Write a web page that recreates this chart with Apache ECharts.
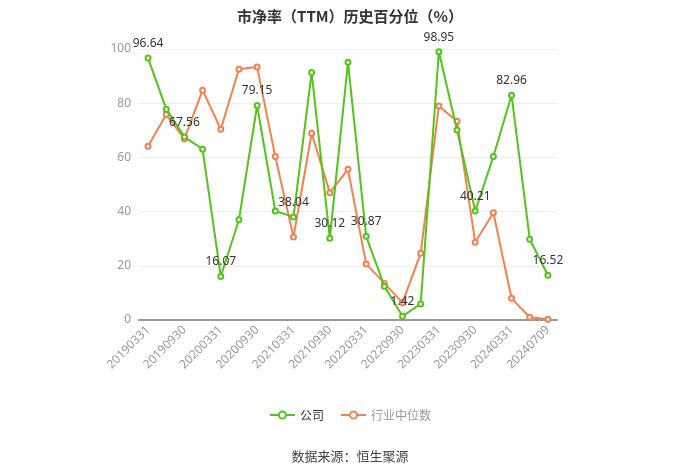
<!DOCTYPE html>
<html>
<head>
<meta charset="utf-8">
<script src="https://cdn.jsdelivr.net/npm/echarts@6/dist/echarts.min.js"></script>
<style>
  html, body { margin: 0; padding: 0; background: #fff; }
  #chart { width: 700px; height: 474px; }
</style>
</head>
<body>
<div id="chart"></div>
<script>
// 报告期
var categories = [
  '20190331', '20190630', '20190930', '20191231',
  '20200331', '20200630', '20200930', '20201231',
  '20210331', '20210630', '20210930', '20211231',
  '20220331', '20220630', '20220930', '20221231',
  '20230331', '20230630', '20230930', '20231231',
  '20240331', '20240630', '20240709'
];
// 公司
var companyValues = [
  96.64, 77.8, 67.56, 63.0,
  16.07, 37.0, 79.15, 40.2,
  38.04, 91.3, 30.12, 95.1,
  30.87, 12.5, 1.42, 5.9,
  98.95, 70.1, 40.21, 60.3,
  82.96, 29.8, 16.52
];
// 行业中位数
var industryValues = [
  64.1, 75.8, 66.8, 84.8,
  70.4, 92.5, 93.4, 60.3,
  30.6, 68.9, 47.0, 55.6,
  20.7, 13.5, 6.4, 24.6,
  79.0, 73.3, 28.7, 39.6,
  8.0, 1.0, 0.3
];

var myChart = echarts.init(document.getElementById('chart'));
var option = {
  animation: false,
  title: {
    text: '市净率（TTM）历史百分位（%）',
    left: 'center',
    top: 4,
    textStyle: { fontSize: 15, fontWeight: 'bold', color: '#333', fontFamily: 'Noto Sans CJK SC' }
  },
  legend: {
    bottom: 48,
    left: 'center',
    itemWidth: 25,
    itemHeight: 9,
    itemGap: 16,
    textStyle: { fontSize: 12, fontFamily: 'Noto Sans CJK SC' },
    data: [
      { name: '公司', textStyle: { color: '#333' } },
      { name: '行业中位数', textStyle: { color: '#999' } }
    ]
  },
  graphic: [{
    type: 'text',
    left: 'center',
    top: 450,
    style: { text: '数据来源：恒生聚源', fontSize: 13, fill: '#444', fontFamily: 'Noto Sans CJK SC' }
  }],
  grid: { left: 139, right: 143, top: 49, bottom: 154 },
  xAxis: {
    type: 'category',
    data: categories,
    boundaryGap: true,
    axisLine: { lineStyle: { color: '#999', width: 2 } },
    axisTick: { alignWithLabel: true, interval: 1, lineStyle: { color: '#999' } },
    axisLabel: { interval: 1, rotate: 45, color: '#999', fontSize: 12, fontFamily: 'Noto Sans', margin: 8 }
  },
  yAxis: {
    type: 'value',
    min: 0,
    max: 100,
    interval: 20,
    axisLine: { show: false },
    axisTick: { show: false },
    axisLabel: { color: '#999', fontSize: 12, fontFamily: 'Noto Sans' },
    splitLine: { lineStyle: { color: '#eee' } }
  },
  series: [{
    name: '行业中位数',
    type: 'line',
    data: industryValues,
    symbol: 'emptyCircle',
    symbolSize: 5,
    lineStyle: { color: '#f5804f', width: 2 },
    itemStyle: { color: '#f5804f' },
    z: 2
  }, {
    name: '公司',
    type: 'line',
    data: companyValues,
    symbol: 'emptyCircle',
    symbolSize: 5,
    lineStyle: { color: '#52c41a', width: 2 },
    itemStyle: { color: '#52c41a' },
    z: 3,
    label: {
      show: true,
      position: 'top',
      color: '#333',
      fontSize: 12,
      fontFamily: 'Noto Sans',
      formatter: function (p) {
        return p.dataIndex % 2 === 0 ? p.value.toFixed(2) : '';
      }
    }
  }]
};
myChart.setOption(option);
</script>
</body>
</html>
